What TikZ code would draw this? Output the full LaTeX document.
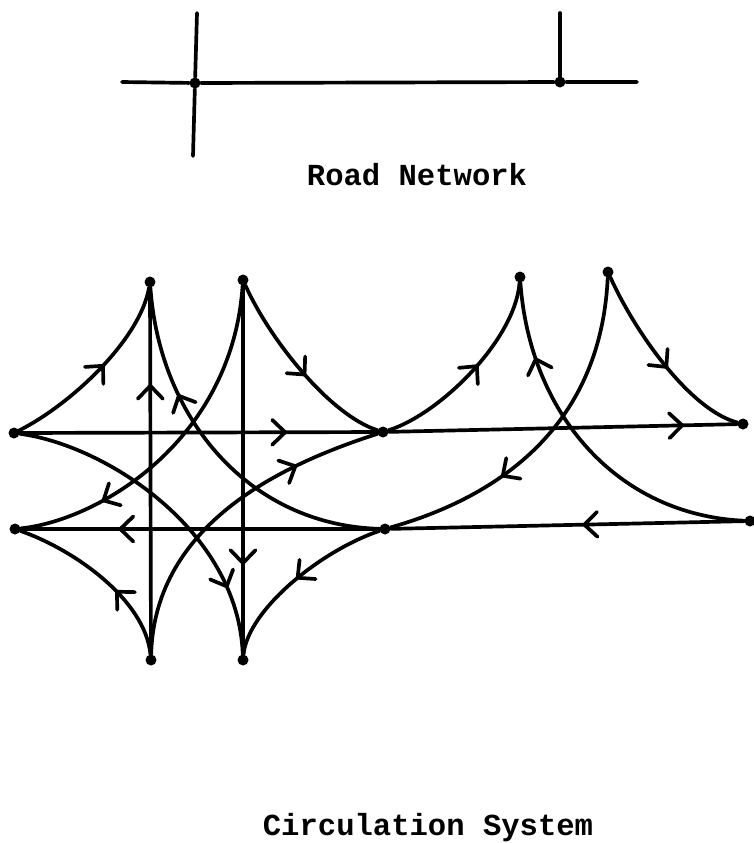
\documentclass[tikz,border=0pt]{standalone}
\usepackage{fontspec}
\setmonofont{Liberation Mono}
\usetikzlibrary{arrows.meta, decorations.markings}

\begin{document}
\begin{tikzpicture}[
  x=0.02cm, y=-0.02cm,
  road/.style={line width=2.1pt, line cap=round},
  dot/.style={circle, fill, inner sep=0pt, minimum size=2.2mm},
  flow/.style={postaction={decorate, decoration={markings,
      mark=at position #1 with {\arrow{Straight Barb[length=2.6mm, width=5mm, line cap=round]}}}}},
  caption/.style={font=\ttfamily\bfseries\fontsize{17.4}{20}\selectfont, anchor=base}
]
  \useasboundingbox (0,0) rectangle (754,843);

  % Road network
  \node[dot] (x1) at (195,83) {};
  \node[dot] (x2) at (560,82) {};
  \coordinate (w) at (122,82);
  \coordinate (e) at (637,82);
  \coordinate (n1) at (197,13);
  \coordinate (s1) at (193,156);
  \coordinate (n2) at (560,13);
  \draw[road] (w) -- (x1) -- (x2) -- (e);
  \draw[road] (n1) -- (x1) -- (s1);
  \draw[road] (n2) -- (x2);
  \node[caption] (roadlbl) at (417,185) {Road Network};

  % Circulation system: junction points
  \node[dot] (l1) at (14,433) {};
  \node[dot] (l2) at (15,529) {};
  \node[dot] (t1) at (150,282) {};
  \node[dot] (t2) at (243,280) {};
  \node[dot] (b1) at (151,660) {};
  \node[dot] (b2) at (243,660) {};
  \node[dot] (m1) at (383,432) {};
  \node[dot] (m2) at (385,529) {};
  \node[dot] (t3) at (520,277) {};
  \node[dot] (t4) at (608,272) {};
  \node[dot] (r1) at (743,424) {};
  \node[dot] (r2) at (750,521) {};

  % Straight through roads
  \draw[road, flow=0.75] (l1) -- (m1);
  \draw[road, flow=0.85] (m1) -- (r1);
  \draw[road, flow=0.46] (r2) -- (m2);
  \draw[road, flow=0.73] (m2) -- (l2);
  \draw[road, flow=0.74] (b1) -- (t1);
  \draw[road, flow=0.76] (t2) -- (b2);

  % Turning ramps
  \draw[road, flow=0.55] (l1) .. controls (70,405) and (140,340) .. (t1);
  \draw[road, flow=0.70] (m2) .. controls (250,525) and (160,420) .. (t1);
  \draw[road, flow=0.55] (t2) .. controls (270,340) and (330,415) .. (m1);
  \draw[road, flow=0.76] (t2) .. controls (232,440) and (100,520) .. (l2);
  \draw[road, flow=0.80] (l1) .. controls (105,445) and (238,530) .. (b2);
  \draw[road, flow=0.40] (b1) .. controls (145,600) and (75,550) .. (l2);
  \draw[road, flow=0.465, flow=0.83] (b1) .. controls (155,520) and (290,462) .. (m1)
    .. controls (440,414) and (515,340) .. (t3);
  \draw[road, flow=0.43, flow=0.83] (t4) .. controls (600,440) and (480,502) .. (m2)
    .. controls (320,551) and (248,610) .. (b2);
  \draw[road, flow=0.79] (r2) .. controls (617,515) and (530,414) .. (t3);
  \draw[road, flow=0.55] (t4) .. controls (635,332) and (690,410) .. (r1);

  \node[caption] (circlbl) at (428,835) {Circulation System};
\end{tikzpicture}
\end{document}
